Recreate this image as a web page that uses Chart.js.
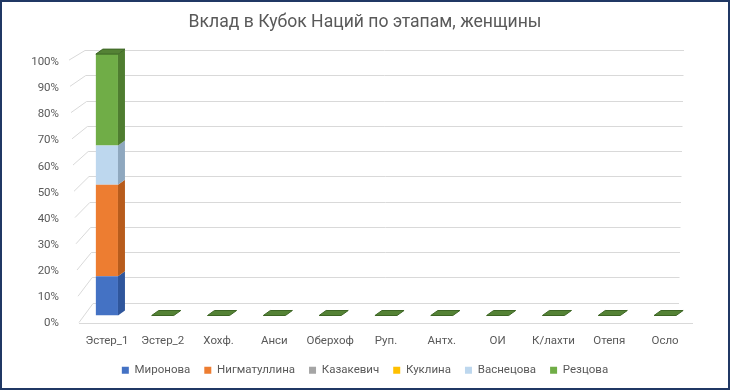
<!DOCTYPE html>
<html lang="ru">
<head>
  <meta charset="UTF-8" />
  <title>Вклад в Кубок Наций по этапам, женщины</title>
  <script src="https://cdn.jsdelivr.net/npm/chart.js"></script>
  <style>
    body { margin: 0; background: #fff; }
    #wrap { position: relative; width: 730px; height: 390px; }
    #wrap:after {
      content: '';
      position: absolute;
      left: 0; top: 0; right: 0; bottom: 0;
      border: 2px solid #203864;
      pointer-events: none;
    }
  </style>
</head>
<body>
  <div id="wrap"><canvas id="chart" width="730" height="390"></canvas></div>

  <script>
    // этапы
    const stages = ['Эстер_1', 'Эстер_2', 'Хохф.', 'Анси', 'Оберхоф', 'Руп.', 'Антх.', 'ОИ', 'К/лахти', 'Отепя', 'Осло'];

    // доля каждой спортсменки, %
    const mironova     = [15, 0, 0, 0, 0, 0, 0, 0, 0, 0, 0];
    const nigmatullina = [35, 0, 0, 0, 0, 0, 0, 0, 0, 0, 0];
    const kazakevich   = [0, 0, 0, 0, 0, 0, 0, 0, 0, 0, 0];
    const kuklina      = [0, 0, 0, 0, 0, 0, 0, 0, 0, 0, 0];
    const vasnetsova   = [15, 0, 0, 0, 0, 0, 0, 0, 0, 0, 0];
    const reztsova     = [35, 0, 0, 0, 0, 0, 0, 0, 0, 0, 0];

    const percentTicks = [0, 10, 20, 30, 40, 50, 60, 70, 80, 90, 100];

    const dx = 7, dy = 5; // глубина "3D"

    Chart.defaults.font.family = 'Roboto, "Noto Sans", sans-serif';
    Chart.defaults.color = '#595959';

    // стенка, пол и грани столбиков
    const fake3d = {
      id: 'fake3d',
      beforeDatasetsDraw(chart) {
        const { ctx, chartArea: a, scales: { y } } = chart;
        ctx.save();
        ctx.strokeStyle = '#d9d9d9';
        ctx.lineWidth = 1;
        y.ticks.forEach(t => {
          const f = t.value / 100;
          const py = y.getPixelForValue(t.value);
          const by = Math.round(py - 13 + 9 * f) + 0.5;
          ctx.beginPath();
          ctx.moveTo(a.left - 10 * f, py + 7 - f);
          ctx.lineTo(a.left + 14 - 8 * f, by);
          ctx.lineTo(a.right - 14 + 5 * f, by);
          ctx.stroke();
        });
        const fl = Math.round(y.getPixelForValue(0) + 7) + 0.5;
        ctx.beginPath();
        ctx.moveTo(a.left, fl);
        ctx.lineTo(a.right, fl);
        ctx.stroke();
        ctx.restore();
      },
      afterDatasetsDraw(chart) {
        const { ctx } = chart;
        const sets = chart.data.datasets;
        ctx.save();
        sets.forEach((ds, i) => {
          chart.getDatasetMeta(i).data.forEach(bar => {
            const { x, y, base, width } = bar.getProps(['x', 'y', 'base', 'width'], true);
            if (base - y < 0.5) return;
            const r = x + width / 2;
            ctx.fillStyle = ds.sideColor;
            ctx.beginPath();
            ctx.moveTo(r, y);
            ctx.lineTo(r + dx, y - dy);
            ctx.lineTo(r + dx, base - dy);
            ctx.lineTo(r, base);
            ctx.closePath();
            ctx.fill();
          });
        });
        const last = sets.length - 1;
        chart.getDatasetMeta(last).data.forEach(bar => {
          const { x, y, width } = bar.getProps(['x', 'y', 'width'], true);
          const l = x - width / 2, r = x + width / 2;
          ctx.fillStyle = sets[last].topColor;
          ctx.strokeStyle = '#3d6624';
          ctx.lineWidth = 1;
          ctx.beginPath();
          ctx.moveTo(l, y);
          ctx.lineTo(r, y);
          ctx.lineTo(r + dx, y - dy);
          ctx.lineTo(l + dx, y - dy);
          ctx.closePath();
          ctx.fill();
          ctx.stroke();
        });
        ctx.restore();
      }
    };

    new Chart(document.getElementById('chart'), {
      type: 'bar',
      data: {
        labels: stages,
        datasets: [
          { label: 'Миронова', data: mironova, backgroundColor: '#4472c4', sideColor: '#2f569c', topColor: '#3a62a8' },
          { label: 'Нигматуллина', data: nigmatullina, backgroundColor: '#ed7d31', sideColor: '#b85c1c', topColor: '#c96a29' },
          { label: 'Казакевич', data: kazakevich, backgroundColor: '#a5a5a5', sideColor: '#7f7f7f', topColor: '#8c8c8c' },
          { label: 'Куклина', data: kuklina, backgroundColor: '#ffc000', sideColor: '#c79500', topColor: '#d9a300' },
          { label: 'Васнецова', data: vasnetsova, backgroundColor: '#bdd7ee', sideColor: '#8fa8bf', topColor: '#a3b9cd' },
          { label: 'Резцова', data: reztsova, backgroundColor: '#70ad47', sideColor: '#4f7d30', topColor: '#548235' }
        ]
      },
      options: {
        responsive: false,
        animation: false,
        barPercentage: 0.45,
        categoryPercentage: 0.88,
        layout: { padding: { left: 28, right: 28, top: 0, bottom: 4 } },
        scales: {
          x: {
            stacked: true,
            grid: { display: false, drawTicks: false },
            border: { display: false },
            ticks: { padding: 19, font: { size: 11.5 }, color: '#595959' },
            afterFit: s => { s.height = 35; }
          },
          y: {
            stacked: true,
            min: 0,
            max: 100,
            afterBuildTicks: s => { s.ticks = percentTicks.map(v => ({ value: v })); },
            grid: { display: false, drawTicks: false },
            border: { display: false },
            ticks: {
              padding: 20,
              labelOffset: 8,
              font: { size: 11.5 },
              color: '#595959',
              callback: v => v + '%'
            },
            afterFit: s => { s.width = 51; }
          },
          // пустая правая ось — только чтобы заголовок стоял по центру
          yRight: {
            position: 'right',
            grid: { display: false, drawTicks: false },
            border: { display: false },
            ticks: { display: false },
            afterFit: s => { s.width = 9; }
          }
        },
        plugins: {
          title: {
            display: true,
            text: 'Вклад в Кубок Наций по этапам, женщины',
            color: '#595959',
            font: { size: 17.6, weight: 'normal' },
            padding: { top: 12, bottom: 21 }
          },
          legend: {
            position: 'bottom',
            labels: {
              boxWidth: 7,
              boxHeight: 7,
              padding: 14,
              color: '#595959',
              font: { size: 11.5 }
            }
          },
          tooltip: { enabled: false }
        }
      },
      plugins: [fake3d]
    });
  </script>
</body>
</html>
